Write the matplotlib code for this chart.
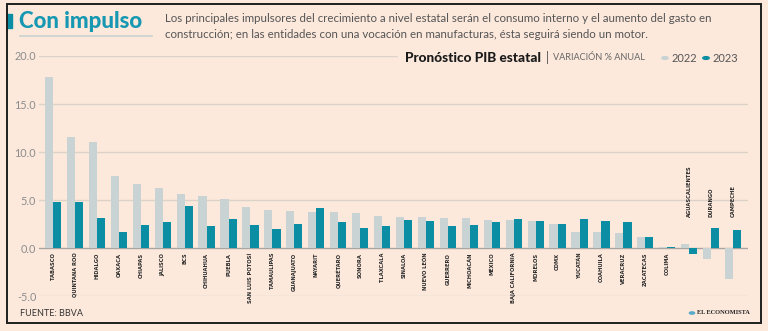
import os
import numpy as np
import matplotlib.pyplot as plt
from matplotlib import font_manager
from matplotlib.font_manager import FontProperties
from matplotlib.patches import Rectangle, Circle
from matplotlib.lines import Line2D

estados = ["TABASCO", "QUINTANA ROO", "HIDALGO", "OAXACA", "CHIAPAS", "JALISCO",
           "BCS", "CHIHUAHUA", "PUEBLA", "SAN LUIS POTOSÍ", "TAMAULIPAS",
           "GUANAJUATO", "NAYARIT", "QUERÉTARO", "SONORA", "TLAXCALA", "SINALOA",
           "NUEVO LEÓN", "GUERRERO", "MICHOACÁN", "MÉXICO", "BAJA CALIFORNIA",
           "MORELOS", "CDMX", "YUCATÁN", "COAHUILA", "VERACRUZ", "ZACATECAS",
           "COLIMA", "AGUASCALIENTES", "DURANGO", "CAMPECHE"]
pib_2022 = [17.8, 11.6, 11.1, 7.5, 6.7, 6.3, 5.6, 5.4, 5.1, 4.3, 4.0, 3.9, 3.8,
            3.8, 3.7, 3.4, 3.3, 3.3, 3.2, 3.2, 2.9, 2.9, 2.8, 2.5, 1.7, 1.7, 1.6,
            1.2, 0.1, 0.5, -1.1, -3.2]
pib_2023 = [4.8, 4.8, 3.2, 1.7, 2.4, 2.7, 4.4, 2.3, 3.1, 2.4, 2.0, 2.5, 4.2,
            2.7, 2.1, 2.3, 2.9, 2.8, 2.3, 2.4, 2.7, 3.0, 2.8, 2.5, 3.0, 2.8, 2.7,
            1.2, 0.1, -0.6, 2.1, 1.9]
yticks = [-5.0, 0.0, 5.0, 10.0, 15.0, 20.0]

fondo = "#fce9dc"
gris = "#c9d3d3"
teal = "#0b8ea3"
W, H = 768, 331

# fuente angosta y negrita para los nombres de los estados, si hay alguna
angostas = []
for f in font_manager.fontManager.ttflist:
    base = os.path.basename(f.fname).lower()
    if (("cond" in base or "narrow" in base) and "bold" in base
            and "italic" not in base and "semi" not in base
            and "extra" not in base.replace("extracond", "")):
        angostas.append(f.fname)
angostas.sort()

fig = plt.figure(figsize=(W / 100, H / 100), dpi=100, facecolor=fondo)

def fx(px):
    return px / W

def fy(py):
    return 1 - py / H

if angostas:
    prop_estado = FontProperties(fname=angostas[0])
    # ajusta el tamano para que "TABASCO" mida unos 27 px
    prueba = fig.text(0, 0, "TABASCO", fontproperties=prop_estado, fontsize=10)
    ancho = prueba.get_window_extent(renderer=fig.canvas.get_renderer()).width
    prueba.remove()
    prop_estado.set_size(min(10 * 27 / ancho, 6.2))
else:
    prop_estado = FontProperties(family="DejaVu Sans", weight="bold", size=4.9)

ax = fig.add_axes([fx(39), fy(296.4), fx(748) - fx(39), fy(56) - fy(296.4)])
ax.set_facecolor(fondo)
for s in ax.spines.values():
    s.set_visible(False)

x = np.arange(len(estados))
w = 0.37
for t in yticks:
    ax.axhline(t, color="#a9a6a2" if t == 0 else "#ddd2c8", lw=1.0, zorder=0)
ax.bar(x - w / 2, pib_2022, w, color=gris, zorder=2)
ax.bar(x + w / 2, pib_2023, w, color=teal, zorder=2)

ax.set_xlim(-0.64, 31.68)
ax.set_ylim(-5, 20)
ax.set_xticks([])
ax.set_yticks(yticks)
ax.set_yticklabels([f"{t:.1f}" for t in yticks], family="Lato", fontsize=7.8,
                   color="#8c8c8c")
ax.tick_params(axis="y", length=0, pad=2)

for i, nombre in enumerate(estados):
    kw = dict(fontproperties=prop_estado, color="#2a2a2a", rotation=90,
              ha="center")
    if min(pib_2022[i], pib_2023[i]) < 0:
        ax.text(i, 3.3, nombre, va="bottom", **kw)
    else:
        ax.text(i, -0.45, nombre, va="top", **kw)

# encabezado
fig.patches.append(Rectangle((fx(7), fy(28)), fx(5), fy(14) - fy(28),
                             transform=fig.transFigure, color=teal))
fig.text(fx(19), fy(21), "Con impulso", family="Lato", fontweight="black",
         fontsize=16, color="#1798b2", va="center", ha="left")
fig.lines.append(Line2D([fx(20), fx(152)], [fy(36), fy(36)],
                        transform=fig.transFigure, color=gris, lw=1.2))
fig.text(fx(165), fy(19),
         "Los principales impulsores del crecimiento a nivel estatal serán el consumo interno y el aumento del gasto en",
         family="Lato", fontsize=8.3, color="#555555", va="center", ha="left")
fig.text(fx(165), fy(34),
         "construcción; en las entidades con una vocación en manufacturas, ésta seguirá siendo un motor.",
         family="Lato", fontsize=8.3, color="#555555", va="center", ha="left")

# titulo del grafico y leyenda sobre la linea de 20
fig.patches.append(Rectangle((fx(398), fy(66)), fx(750) - fx(398), fy(48) - fy(66),
                             transform=fig.transFigure, color=fondo, zorder=5))
fig.text(fx(405), fy(58), "Pronóstico PIB estatal", family="Lato",
         fontweight="black", fontsize=9.8, color="#1a1a1a", va="center", zorder=6)
fig.text(fx(546), fy(58), "|", family="Lato", fontsize=9, color="#555555",
         va="center", zorder=6)
fig.text(fx(553), fy(58), "VARIACIÓN % ANUAL", family="Lato", fontsize=6.6,
         color="#666666", va="center", zorder=6)
for cx, col, lab in [(665, gris, "2022"), (706, teal, "2023")]:
    fig.patches.append(Circle((fx(cx), fy(58)), 3.2 / W, transform=fig.transFigure,
                              color=col, zorder=6))
    fig.text(fx(cx + 7), fy(58), lab, family="Lato", fontsize=8,
             color="#555555", va="center", zorder=6)

# pie
fig.text(fx(20), fy(313), "FUENTE: BBVA", family="Lato", fontsize=6.5,
         color="#333333", va="center")
fig.patches.append(Circle((fx(692), fy(313)), 2.6 / W, transform=fig.transFigure,
                          color="#5aa9c9"))
fig.text(fx(697), fy(313), "EL ECONOMISTA", family="Liberation Serif",
         fontweight="bold", fontsize=4.6, color="#222222", va="center")

# marco
fig.patches.append(Rectangle((fx(7), fy(323)), fx(761) - fx(7), fy(4) - fy(323),
                             transform=fig.transFigure, fill=False,
                             edgecolor="#1e1e1e", lw=1.4, zorder=10))

fig.savefig("out.png", dpi=100, facecolor=fondo)
